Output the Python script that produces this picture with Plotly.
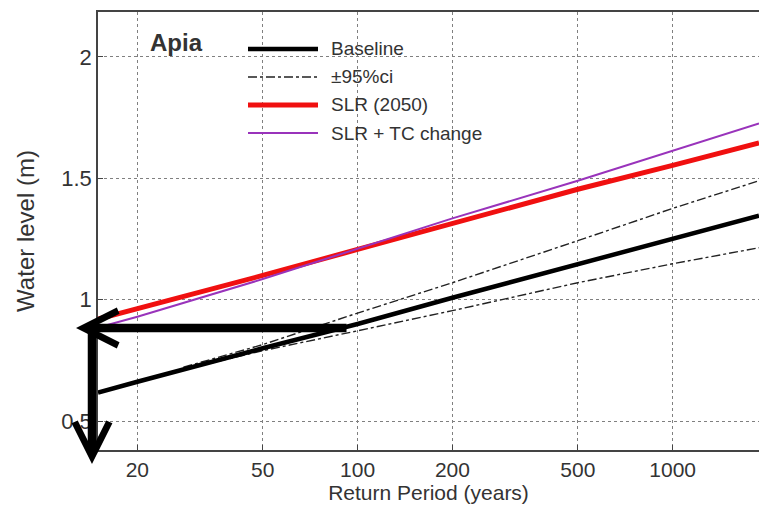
import math
import plotly.graph_objects as go

# ---- data ----
return_period = [15, 20, 50, 100, 200, 500, 1000, 1880]
baseline = [0.617, 0.662, 0.800, 0.900, 1.008, 1.148, 1.251, 1.346]
slr_2050 = [0.920, 0.962, 1.100, 1.207, 1.315, 1.455, 1.553, 1.646]
slr_tc = [0.885, 0.930, 1.085, 1.210, 1.335, 1.490, 1.614, 1.726]

ci_period = [28, 50, 100, 200, 500, 1000, 1880]
ci_upper = [0.722, 0.815, 0.945, 1.070, 1.243, 1.376, 1.490]
ci_lower = [0.712, 0.790, 0.872, 0.955, 1.070, 1.148, 1.214]

x_ticks = [20, 50, 100, 200, 500, 1000]
y_ticks = [0.5, 1, 1.5, 2]

legend_labels = ["Baseline", "\u00b195%ci", "SLR (2050)", "SLR + TC change"]
site_label = "Apia"
x_title = "Return Period (years)"
y_title = "Water level (m)"

# ---- layout geometry ----
W, H = 759, 506
ML, MR, MT, MB = 98, 0, 12, 56
PW, PH = W - ML - MR, H - MT - MB

def px(x):
    return (x - ML) / PW

def py(y):
    return (H - MB - y) / PH

FONT = "Liberation Sans, Arial, Helvetica, sans-serif"
TXT = "#333333"
RED = "#f01010"
PURPLE = "#9933bb"
CI = dict(color="#222222", width=1.4, dash="dashdot")

fig = go.Figure()
fig.add_trace(go.Scatter(x=ci_period, y=ci_upper, mode="lines", line=CI,
                         name=legend_labels[1], showlegend=False))
fig.add_trace(go.Scatter(x=ci_period, y=ci_lower, mode="lines", line=CI,
                         showlegend=False))
fig.add_trace(go.Scatter(x=return_period, y=baseline, mode="lines",
                         line=dict(color="black", width=4.5),
                         name=legend_labels[0], showlegend=False))
fig.add_trace(go.Scatter(x=return_period, y=slr_2050, mode="lines",
                         line=dict(color=RED, width=5),
                         name=legend_labels[2], showlegend=False))
fig.add_trace(go.Scatter(x=return_period, y=slr_tc, mode="lines",
                         line=dict(color=PURPLE, width=2),
                         name=legend_labels[3], showlegend=False))

# manual legend
styles = [dict(color="black", width=4.5),
          CI,
          dict(color=RED, width=5),
          dict(color=PURPLE, width=2)]
rows = [49, 77, 105, 133]
shapes = []
annotations = []
for lab, st, ry in zip(legend_labels, styles, rows):
    shapes.append(dict(type="line", xref="paper", yref="paper",
                       x0=px(248), x1=px(318), y0=py(ry), y1=py(ry), line=st))
    annotations.append(dict(xref="paper", yref="paper", x=px(329), y=py(ry),
                            text=lab, showarrow=False, xanchor="left", yanchor="middle",
                            font=dict(family=FONT, size=19, color=TXT)))
annotations.append(dict(xref="paper", yref="paper", x=px(148), y=py(42),
                        text="<b>" + site_label + "</b>", showarrow=False,
                        xanchor="left", yanchor="middle",
                        font=dict(family=FONT, size=24, color=TXT)))

# arrows
annotations.append(dict(xref="paper", yref="paper", x=px(76), y=py(328),
                        ax=348 - 76, ay=0, axref="pixel", ayref="pixel",
                        showarrow=True, arrowhead=5, arrowwidth=8.5, arrowsize=0.8,
                        arrowcolor="black", text=""))
annotations.append(dict(xref="paper", yref="paper", x=px(92), y=py(464),
                        ax=0, ay=328 - 464, axref="pixel", ayref="pixel",
                        showarrow=True, arrowhead=5, arrowwidth=8.5, arrowsize=0.8,
                        arrowcolor="black", text=""))

fig.update_layout(
    width=W, height=H,
    margin=dict(l=ML, r=MR, t=MT, b=MB, pad=0),
    paper_bgcolor="white", plot_bgcolor="white",
    showlegend=False,
    shapes=shapes, annotations=annotations,
    font=dict(family=FONT, color=TXT),
)
fig.update_xaxes(type="log", range=[math.log10(15), math.log10(1880)],
                 tickvals=x_ticks, ticktext=[str(v) for v in x_ticks],
                 tickfont=dict(size=21, color=TXT),
                 showgrid=True, gridcolor="#808080", griddash="dot", gridwidth=1,
                 showline=True, linecolor="#444444", linewidth=1.5, mirror=True,
                 ticks="inside", ticklen=5, tickcolor="#444444",
                 zeroline=False,
                 title=dict(text=x_title, font=dict(size=21, color=TXT), standoff=4))
fig.update_yaxes(range=[0.381, 2.185],
                 tickvals=y_ticks, ticktext=["0.5", "1", "1.5", "2"],
                 tickfont=dict(size=22, color=TXT),
                 showgrid=True, gridcolor="#808080", griddash="dot", gridwidth=1,
                 showline=True, linecolor="#444444", linewidth=1.5,
                 ticks="inside", ticklen=5, tickcolor="#444444",
                 zeroline=False,
                 title=dict(text=y_title, font=dict(size=24, color=TXT), standoff=20))

fig.write_html("out.html")
